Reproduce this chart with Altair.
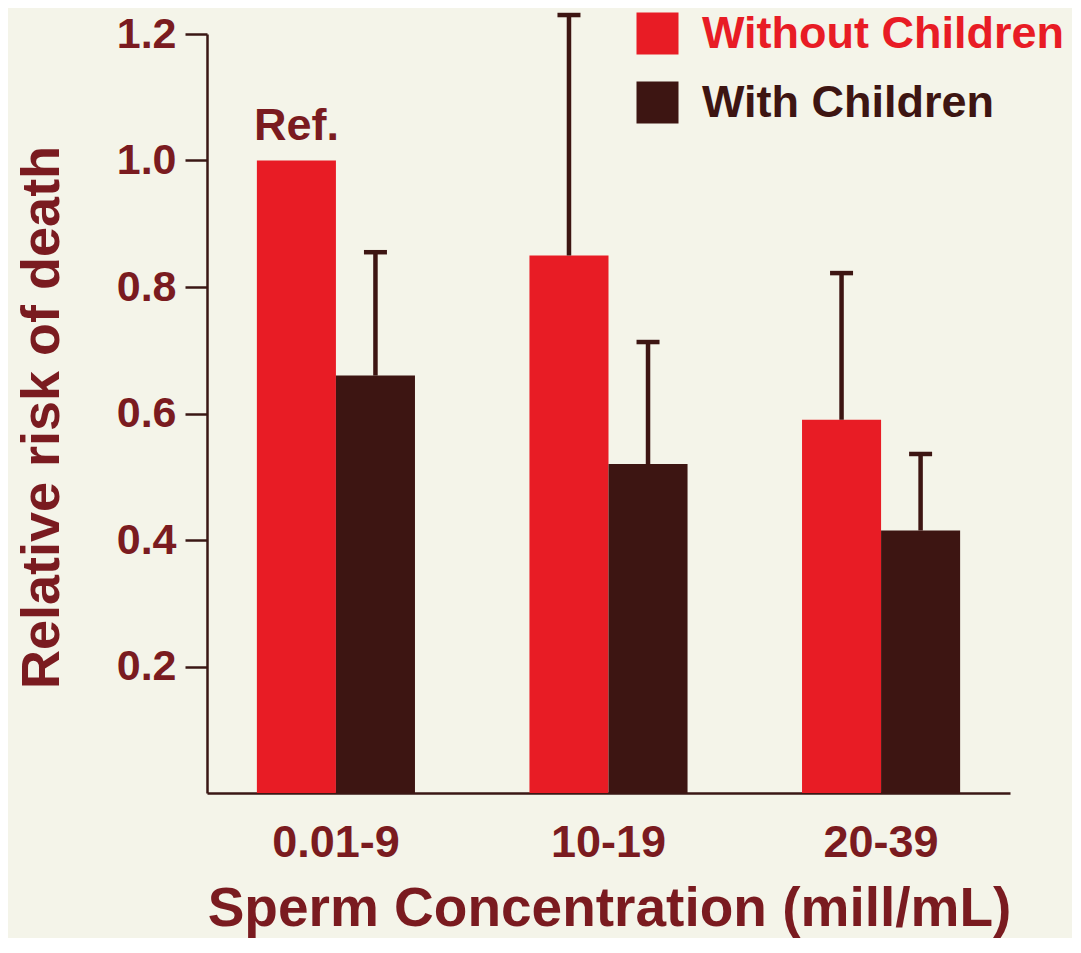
import altair as alt
import pandas as pd

# ---- data ----
groups = ["0.01-9", "10-19", "20-39"]
series = ["Without Children", "With Children"]
without_children = [1.0, 0.85, 0.59]
with_children = [0.66, 0.52, 0.415]
without_upper = [None, 1.23, 0.822]
with_upper = [0.855, 0.713, 0.536]
bar_notes = ["Ref.", "", ""]

rows = []
for i, g in enumerate(groups):
    rows.append(dict(group=g, series=series[0], value=without_children[i],
                     upper=without_upper[i], note=bar_notes[i]))
    rows.append(dict(group=g, series=series[1], value=with_children[i],
                     upper=with_upper[i], note=""))
df = pd.DataFrame(rows)
err = df.dropna(subset=["upper"])
notes = df[df["note"] != ""]

RED = "#e81c25"
DARK = "#3d1512"
TEXT = "#7a1b20"
BG = "#f4f4e9"
AXIS = "#3a1714"
FONT = "Liberation Sans"

x_enc = alt.X(
    "group:N", sort=groups,
    scale=alt.Scale(paddingInner=0.42, paddingOuter=0.183),
    axis=alt.Axis(
        title="Sperm Concentration (mill/mL)", labelAngle=0, ticks=False, tickSize=0,
        labelPadding=63, labelBaseline="alphabetic", labelFontSize=45,
        labelColor=TEXT, labelFont=FONT, labelFontWeight="bold",
        domainColor=AXIS, domainWidth=2.5,
        titleFontSize=55, titleFont=FONT, titleFontWeight="bold", titleColor=TEXT,
        titleX=402, titleY=132, titleBaseline="alphabetic", titleAlign="center",
    ),
)
xo_enc = alt.XOffset("series:N", sort=series,
                     scale=alt.Scale(paddingInner=0, paddingOuter=0))
y_axis = alt.Axis(
    values=[0.2, 0.4, 0.6, 0.8, 1.0, 1.2], format=".1f", grid=False,
    tickSize=22, tickWidth=2.5, tickColor=AXIS, domainColor=AXIS, domainWidth=2.5,
    labelPadding=9, labelFontSize=43, labelColor=TEXT, labelFont=FONT,
    labelFontWeight="bold",
    title="Relative risk of death", titleFontSize=54, titleFont=FONT,
    titleFontWeight="bold", titleColor=TEXT, titleX=-149, titleY=383,
    titleAngle=270, titleBaseline="alphabetic", titleAlign="center",
)
y_scale = alt.Scale(domain=[0, 1.2], nice=False, zero=True)

color_enc = alt.Color(
    "series:N", sort=series,
    scale=alt.Scale(domain=series, range=[RED, DARK]),
    legend=alt.Legend(
        title=None, orient="none", legendX=428, legendY=-23,
        symbolType="square", symbolSize=1764, symbolStrokeWidth=0, symbolOpacity=1,
        labelFontSize=45, labelFont=FONT, labelFontWeight="bold",
        labelColor=alt.ExprRef(expr="datum.label == 'Without Children' ? '%s' : '%s'" % (RED, DARK)),
        labelOffset=22, rowPadding=23, padding=0, labelLimit=0,
    ),
)

bars = alt.Chart(df).mark_bar().encode(
    x=x_enc, xOffset=xo_enc,
    y=alt.Y("value:Q", scale=y_scale, axis=y_axis),
    color=color_enc,
)

rules = alt.Chart(err).mark_rule(strokeWidth=4.5, color=DARK).encode(
    x=x_enc, xOffset=xo_enc,
    y=alt.Y("value:Q", scale=y_scale, axis=y_axis),
    y2="upper:Q",
)

caps = alt.Chart(err).mark_tick(orient="horizontal", size=23, thickness=4.5,
                                color=DARK, opacity=1).encode(
    x=x_enc, xOffset=xo_enc,
    y=alt.Y("upper:Q", scale=y_scale, axis=y_axis),
)

ref_text = alt.Chart(notes).mark_text(
    dy=-21, baseline="alphabetic", fontSize=45, font=FONT, fontWeight="bold",
    color=TEXT,
).encode(
    x=x_enc, xOffset=xo_enc,
    y=alt.Y("value:Q", scale=y_scale, axis=y_axis),
    text="note:N",
)

chart = alt.layer(bars, rules, caps, ref_text).properties(
    width=803, height=759,
    padding={"left": 199, "top": 26, "right": 62, "bottom": 145},
    autosize=alt.AutoSizeParams(type="none"),
    background=BG,
).configure_view(stroke="transparent")

chart.save("out.html", embed_options={"renderer": "svg", "actions": False})
